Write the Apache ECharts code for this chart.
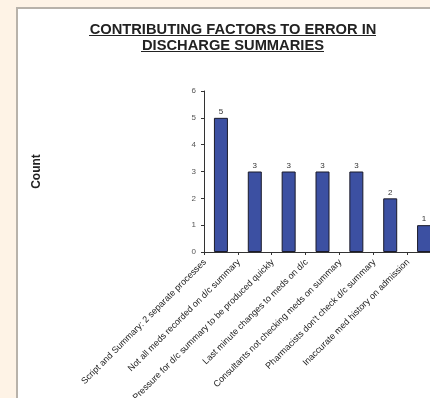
<!DOCTYPE html>
<html>
<head>
<meta charset="utf-8">
<script src="https://cdn.jsdelivr.net/npm/echarts@6/dist/echarts.min.js"></script>
<style>
  html, body { margin: 0; padding: 0; background: #fef3e6; }
  #chart { width: 430px; height: 398px; }
</style>
</head>
<body>
<div id="chart"></div>
<script>
const categories = [
  'Script and Summary: 2 separate processes',
  'Not all meds recorded on d/c summary',
  'Pressure for d/c summary to be produced quickly',
  'Last minute changes to meds on d/c',
  'Consultants not checking meds on summary',
  "Pharmacists don't check d/c summary",
  'Inaccurate med history on admission'
]
const counts = [5, 3, 3, 3, 3, 2, 1]
const yTicks = { min: 0, max: 6, interval: 1 }

const chart = echarts.init(document.getElementById('chart'))

const option = {
  animation: false,
  textStyle: { fontFamily: 'Liberation Sans, Arial, sans-serif' },
  title: {
    text: 'CONTRIBUTING FACTORS TO ERROR IN\nDISCHARGE SUMMARIES',
    left: 228,
    top: 17,
    textAlign: 'center',
    textStyle: {
      fontSize: 14.7,
      fontWeight: 'bold',
      color: '#222',
      lineHeight: 16
    }
  },
  graphic: [
    // white panel behind the chart
    {
      type: 'rect',
      z: -10,
      silent: true,
      shape: { x: 17, y: 8, width: 430, height: 400 },
      style: { fill: '#fff', stroke: '#b8b2aa', lineWidth: 2 }
    },
    // title underline
    {
      type: 'line',
      shape: { x1: 89, y1: 35.5, x2: 376, y2: 35.5 },
      style: { stroke: '#222', lineWidth: 1 }
    },
    {
      type: 'line',
      shape: { x1: 141, y1: 51.5, x2: 324, y2: 51.5 },
      style: { stroke: '#222', lineWidth: 1 }
    }
  ],
  grid: {
    left: 204,
    right: -11,
    top: 91,
    bottom: 146,
    containLabel: false,
    outerBoundsMode: 'none'
  },
  xAxis: {
    type: 'category',
    data: categories,
    axisLine: { lineStyle: { color: '#333' } },
    axisTick: { show: true, length: 3, lineStyle: { color: '#333' } },
    axisLabel: {
      interval: 0,
      rotate: 45,
      fontSize: 9,
      color: '#222',
      margin: 2,
      verticalAlign: 'bottom',
      lineHeight: 13,
      padding: [0, 16, 0, 0]
    }
  },
  yAxis: {
    type: 'value',
    min: yTicks.min,
    max: yTicks.max,
    interval: yTicks.interval,
    name: 'Count',
    nameLocation: 'middle',
    nameRotate: 90,
    nameGap: 161,
    nameTextStyle: { fontSize: 12, fontWeight: 'bold', color: '#222' },
    splitLine: { show: false },
    axisLine: { show: true, lineStyle: { color: '#333' } },
    axisTick: { show: true, length: 3, lineStyle: { color: '#333' } },
    axisLabel: { fontSize: 8, color: '#555', margin: 8 }
  },
  series: [
    {
      type: 'bar',
      data: counts,
      barWidth: 14,
      itemStyle: { color: '#3c50a2', borderColor: '#1a1a2a', borderWidth: 1 },
      label: {
        show: true,
        position: 'top',
        distance: 2,
        fontSize: 8,
        color: '#333'
      }
    }
  ]
}

chart.setOption(option)
</script>
</body>
</html>
